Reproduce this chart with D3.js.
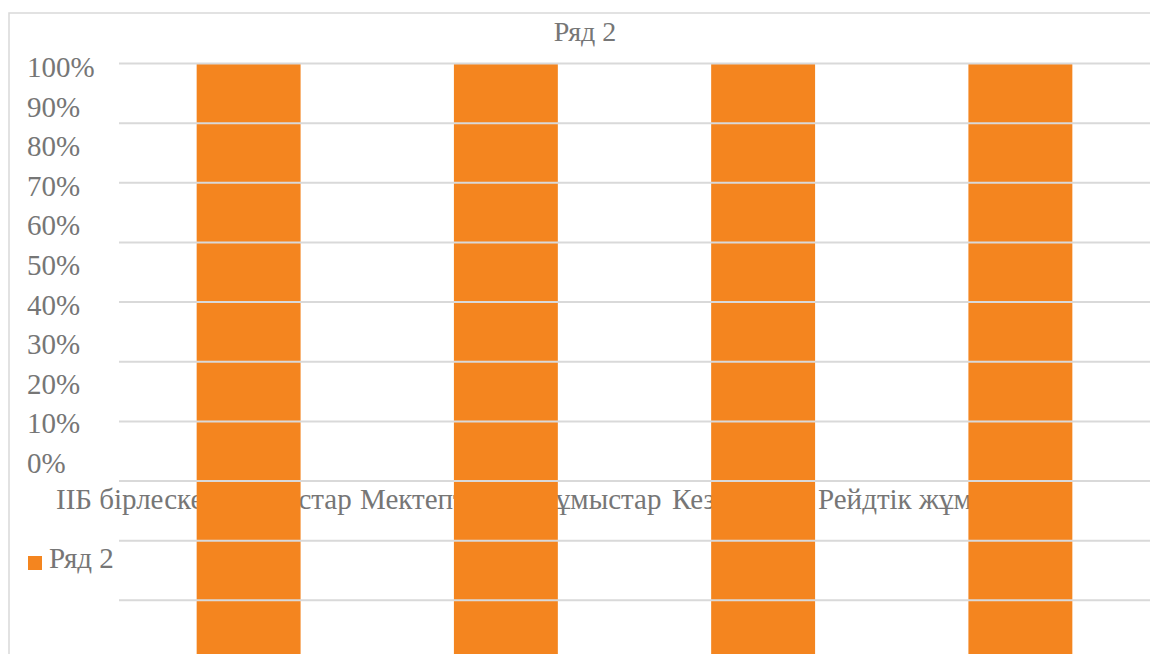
<!DOCTYPE html>
<html>
<head>
<meta charset="utf-8">
<script src="https://cdn.jsdelivr.net/npm/d3@7"></script>
<style>
  html, body { margin: 0; padding: 0; background: #ffffff; }
  svg { display: block; }
  text { font-family: "Liberation Serif", "Times New Roman", serif; fill: #767676; }
</style>
</head>
<body>
<svg id="chart" width="1150" height="654"></svg>
<script>
// Chart data
var categories = ["ІІБ бірлескен жұмыстар", "Мектептегі жұмыстар", "Кездесулер", "Рейдтік жұмыстар"];
var seriesName = "Ряд 2";
var seriesValues = [1, 1, 1, 1];
var tickValues = [1, 0.9, 0.8, 0.7, 0.6, 0.5, 0.4, 0.3, 0.2, 0.1, 0];

// Colours
var barColour = '#f4851f';
var gridColour = '#d9d9d9';
var frameColour = '#d9d9d9';

// where each category label starts (they overflow and sit under the bars)
var catLabelStart = [56, 360, 672, 818];
var catWordGap = [0, 30, 0, 0];

var width = 1150, height = 654;
var svg = d3.select("#chart");

// plot area (runs past the bottom of the picture)
var x = d3.scaleBand()
  .domain(categories)
  .range([120, 1149])
  .paddingInner(0.596)
  .paddingOuter(0.298);

var yGrid = d3.scaleLinear().domain([0, 1]).range([660, 63.5]);
// tick labels are squeezed into a shorter column
var yLabel = d3.scaleLinear().domain([0, 1]).range([473, 77]);

// chart frame
svg.append("path")
  .attr("d", "M9," + (height + 5) + "V13H" + (width + 5))
  .attr("fill", "none")
  .attr("stroke", frameColour)
  .attr("stroke-width", 1.5);

// title
svg.append("text")
  .attr("x", 585)
  .attr("y", 41)
  .attr("text-anchor", "middle")
  .attr("font-size", 28)
  .text(seriesName);

// y tick labels
svg.selectAll("text.tick")
  .data(tickValues)
  .enter().append("text")
  .attr("class", "tick")
  .attr("x", 27)
  .attr("y", function (d) { return yLabel(d) })
  .attr("font-size", 29)
  .text(d3.format(".0%"));

// category labels, bars drawn over them
svg.selectAll("text.cat")
  .data(categories)
  .enter().append("text")
  .attr("class", "cat")
  .attr("x", function (d, i) { return catLabelStart[i] })
  .attr("y", 509)
  .attr("font-size", 29)
  .attr("word-spacing", function (d, i) { return catWordGap[i] })
  .text(function (d) { return d });

// bars
svg.selectAll("rect.bar")
  .data(seriesValues)
  .enter().append("rect")
  .attr("class", "bar")
  .attr("x", function (d, i) { return x(categories[i]) })
  .attr("width", x.bandwidth())
  .attr("y", function (d) { return yGrid(d) })
  .attr("height", function (d) { return yGrid(0) - yGrid(d) })
  .attr("fill", barColour);

// gridlines on top of the bars
svg.selectAll("line.grid")
  .data(yGrid.ticks(10))
  .enter().append("line")
  .attr("class", "grid")
  .attr("x1", 119)
  .attr("x2", width + 5)
  .attr("y1", function (d) { return yGrid(d) })
  .attr("y2", function (d) { return yGrid(d) })
  .attr("stroke", gridColour)
  .attr("stroke-width", 2);

// legend
var legend = svg.append("g").attr("transform", "translate(28,556)");
legend.append("rect")
  .attr("width", 14)
  .attr("height", 14)
  .attr("fill", barColour);
legend.append("text")
  .attr("x", 21)
  .attr("y", 12)
  .attr("font-size", 29)
  .text(seriesName);
</script>
</body>
</html>
